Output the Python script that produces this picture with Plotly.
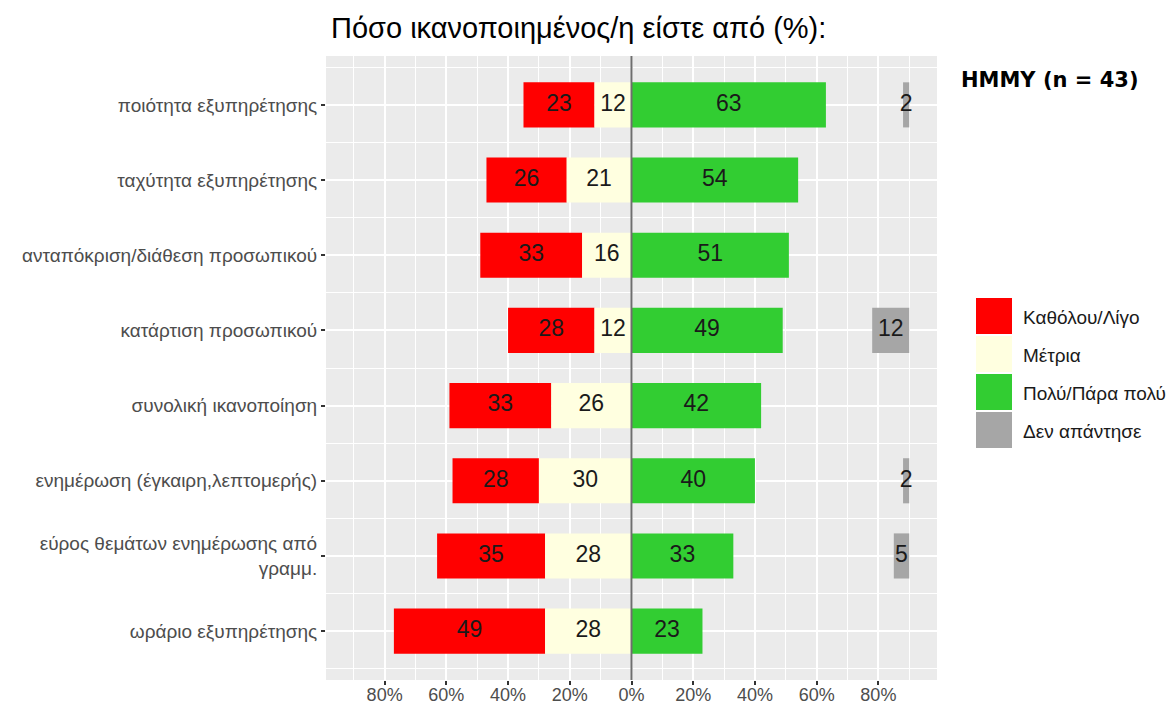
import plotly.graph_objects as go

categories = [
    "ποιότητα εξυπηρέτησης",
    "ταχύτητα εξυπηρέτησης",
    "ανταπόκριση/διάθεση προσωπικού",
    "κατάρτιση προσωπικού",
    "συνολική ικανοποίηση",
    "ενημέρωση (έγκαιρη,λεπτομερής)",
    "εύρος θεμάτων ενημέρωσης από<br>γραμμ.",
    "ωράριο εξυπηρέτησης",
]
little = [23, 26, 33, 28, 33, 28, 35, 49]      # Καθόλου/Λίγο
medium = [12, 21, 16, 12, 26, 30, 28, 28]      # Μέτρια
much = [63, 54, 51, 49, 42, 40, 33, 23]        # Πολύ/Πάρα πολύ
no_answer = [2, None, None, 12, None, 2, 5, None]  # Δεν απάντησε

series_names = ["Καθόλου/Λίγο", "Μέτρια", "Πολύ/Πάρα πολύ", "Δεν απάντησε"]
colors = ["#FF0000", "#FFFFE0", "#32CD32", "#A6A6A6"]

x_ticks = [-80, -60, -40, -20, 0, 20, 40, 60, 80]
x_ticktext = [f"{abs(v)}%" for v in x_ticks]
NA_END = 90  # grey bars end at this position

FONT = "Liberation Sans, Arial, sans-serif"

ypos = list(range(1, len(categories) + 1))

base_little = [-(l + m) for l, m in zip(little, medium)]
base_medium = [-m for m in medium]
base_much = [0] * len(much)
na_y = [y for y, v in zip(ypos, no_answer) if v is not None]
na_v = [v for v in no_answer if v is not None]
base_na = [NA_END - v for v in na_v]

fig = go.Figure()
bar_w = 0.6
for name, col, xs, bs, ys in [
    (series_names[0], colors[0], little, base_little, ypos),
    (series_names[1], colors[1], medium, base_medium, ypos),
    (series_names[2], colors[2], much, base_much, ypos),
    (series_names[3], colors[3], na_v, base_na, na_y),
]:
    fig.add_trace(go.Bar(
        x=xs, base=bs, y=ys, orientation="h", name=name,
        marker=dict(color=col, line=dict(width=0)), width=bar_w,
        hoverinfo="skip",
    ))
    fig.add_trace(go.Scatter(
        x=[b + v / 2 for b, v in zip(bs, xs)], y=ys, mode="text",
        text=[str(v) for v in xs],
        textfont=dict(family=FONT, size=23, color="#1A1A1A"),
        hoverinfo="skip", showlegend=False,
    ))

OFF = 8  # page body margin
W, H = 1176 - OFF, 709 - OFF
# target screen positions of the panel
L, R, T, B = 326, 937, 56, 680


def px2x(px):
    return (px - L) / (R - L)


def py2y(py):
    return (B - py) / (B - T)


shapes = [dict(type="line", xref="x", yref="paper", x0=0, x1=0, y0=0, y1=1,
               line=dict(color="#6E6E6E", width=2), layer="above")]
annotations = []
key_top = 297
key_h = 38
for i, (name, col) in enumerate(zip(series_names, colors)):
    y0 = key_top + i * key_h
    shapes.append(dict(type="rect", xref="paper", yref="paper",
                       x0=px2x(976), x1=px2x(1012),
                       y0=py2y(y0 + key_h - 1), y1=py2y(y0 + 1),
                       fillcolor=col, line=dict(width=0)))
    annotations.append(dict(xref="paper", yref="paper", x=px2x(1021), y=py2y(y0 + key_h / 2 + 1),
                            text=name, showarrow=False, xanchor="left", yanchor="middle",
                            font=dict(family=FONT, size=19, color="#1A1A1A")))

annotations.append(dict(xref="paper", yref="paper", x=px2x(959), y=py2y(80),
                        text="<b>HMMY (n = 43)</b>", showarrow=False,
                        xanchor="left", yanchor="middle",
                        font=dict(family="DejaVu Sans, Liberation Sans, sans-serif", size=21, color="#000000")))
annotations.append(dict(xref="paper", yref="paper", x=px2x(329), y=py2y(28),
                        text="Πόσο ικανοποιημένος/η είστε από (%):", showarrow=False,
                        xanchor="left", yanchor="middle",
                        font=dict(family=FONT, size=29, color="#000000")))

fig.update_layout(
    width=W, height=H,
    margin=dict(l=L - OFF, r=W - (R - OFF), t=T - OFF, b=H - (B - OFF), pad=0),
    paper_bgcolor="white", plot_bgcolor="#EBEBEB",
    barmode="overlay", showlegend=False,
    shapes=shapes, annotations=annotations,
    font=dict(family=FONT),
)
fig.update_xaxes(
    range=[-99, 99], tickvals=x_ticks, ticktext=x_ticktext, automargin=False,
    showgrid=True, gridcolor="white", gridwidth=2, zeroline=False,
    ticks="outside", ticklen=4, tickwidth=2, tickcolor="#333333",
    tickfont=dict(family=FONT, size=18, color="#4D4D4D"),
    ticklabelstandoff=-6,
    minor=dict(tickvals=[-90, -70, -50, -30, -10, 10, 30, 50, 70, 90],
               showgrid=True, gridcolor="white", gridwidth=1),
    showline=False, fixedrange=True,
)
fig.update_yaxes(
    range=[8.65, 0.35], tickvals=ypos, ticktext=categories, automargin=False,
    showgrid=True, gridcolor="white", gridwidth=2, zeroline=False,
    ticks="outside", ticklen=4, tickwidth=2, tickcolor="#333333",
    tickfont=dict(family=FONT, size=19, color="#4D4D4D"),
    minor=dict(tickvals=[0.5 + i for i in range(9)], showgrid=True,
               gridcolor="white", gridwidth=1),
    showline=False, fixedrange=True,
)

fig.write_html("out.html")
